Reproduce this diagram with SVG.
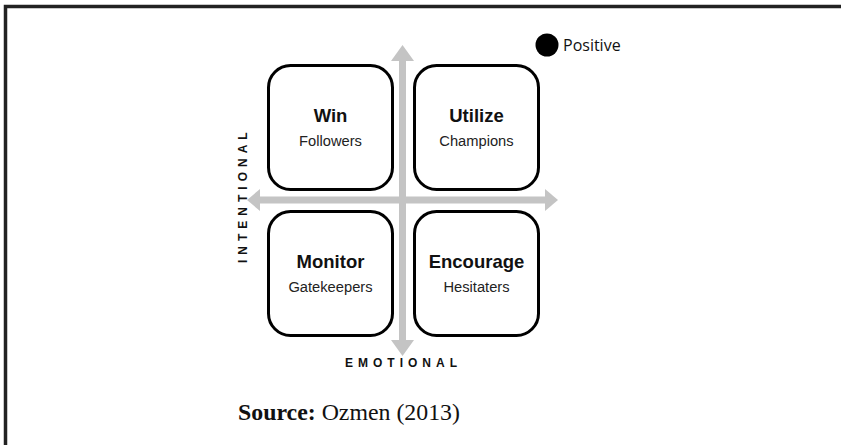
<svg xmlns="http://www.w3.org/2000/svg" width="841" height="445" viewBox="0 0 841 445">
<style>
.box{fill:#fff;stroke:#000;stroke-width:3}
.t{font-family:"Liberation Sans",Arial,sans-serif;font-weight:bold;font-size:18.5px;fill:#111;text-anchor:middle}
.s{font-family:"Liberation Sans",Arial,sans-serif;font-size:14.7px;fill:#222;text-anchor:middle}
.ax{font-family:"Liberation Sans",Arial,sans-serif;font-weight:bold;font-size:12px;fill:#111;letter-spacing:5px}
.arr{fill:#c4c4c4}
</style>
<rect x="0" y="0" width="841" height="445" fill="#fff"/>
<path d="M5.5 445 V6.5 H841" fill="none" stroke="#222" stroke-width="3.5"/>
<g id="connectors">
<rect class="arr" x="399" y="60" width="7" height="282"/>
<polygon class="arr" points="402.5,45 391,61 414,61"/>
<polygon class="arr" points="402.5,356 391,340 414,340"/>
<rect class="arr" x="257" y="196.5" width="288" height="7"/>
<polygon class="arr" points="247,200 260,189 260,211"/>
<polygon class="arr" points="558,200 545,189 545,211"/>
</g>
<g id="win">
<rect class="box" x="268.5" y="65.5" width="124" height="124" rx="22"/>
<text class="t" x="330.5" y="122">Win</text>
<text class="s" x="330.5" y="146">Followers</text>
</g>
<g id="utilize">
<rect class="box" x="414.5" y="65.5" width="124" height="124" rx="22"/>
<text class="t" x="476.5" y="122">Utilize</text>
<text class="s" x="476.5" y="146">Champions</text>
</g>
<g id="monitor">
<rect class="box" x="268.5" y="211.5" width="124" height="124" rx="22"/>
<text class="t" x="330.5" y="268">Monitor</text>
<text class="s" x="330.5" y="292">Gatekeepers</text>
</g>
<g id="encourage">
<rect class="box" x="414.5" y="211.5" width="124" height="124" rx="22"/>
<text class="t" x="476.5" y="268">Encourage</text>
<text class="s" x="476.5" y="292">Hesitaters</text>
</g>
<g id="intentional">
<text class="ax" transform="translate(247,263) rotate(-90)" letter-spacing="6.3">INTENTIONAL</text>
</g>
<g id="emotional">
<text class="ax" x="345" y="367">EMOTIONAL</text>
</g>
<g id="legend">
<circle cx="547" cy="45" r="11.5" fill="#000"/>
<text x="563" y="51" font-family="'Open Sans','Noto Sans',sans-serif" font-size="16" fill="#111">Positive</text>
</g>
<g id="source">
<text x="238" y="420" font-family="'Liberation Serif','Times New Roman',serif" font-size="23" fill="#111" textLength="222" lengthAdjust="spacingAndGlyphs"><tspan font-weight="bold">Source:</tspan> Ozmen (2013)</text>
</g>
</svg>
